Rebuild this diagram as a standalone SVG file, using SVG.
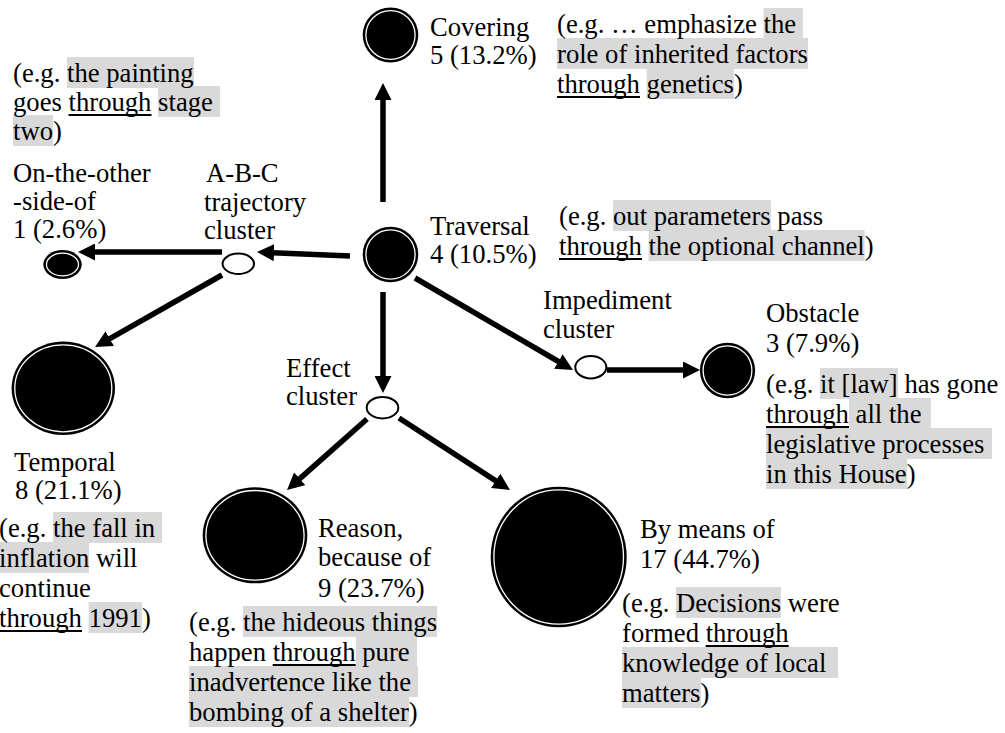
<svg xmlns="http://www.w3.org/2000/svg" width="1005" height="733" viewBox="0 0 1005 733" font-family="'Liberation Serif', serif">
<style>
.t{font-family:'Liberation Serif',serif;font-size:26.67px;fill:#000}
.hl{fill:#d9d9d9}
.ul{fill:#000}
.conn{stroke:#000;stroke-width:5.5;fill:none;marker-end:url(#ah)}
.node{fill:#000}
.ring{fill:none;stroke:#fff;stroke-width:1.3}
.cl{fill:#fff;stroke:#000;stroke-width:2}
</style>
<defs>
<marker id="ah" markerUnits="userSpaceOnUse" markerWidth="17" markerHeight="17" refX="7" refY="8.5" orient="auto" viewBox="0 0 17 17">
<path d="M0,0 L17,8.5 L0,17 Z" fill="#000"/>
</marker>
</defs>
<rect width="1005" height="733" fill="#fff"/>

<g id="connectors">
<line class="conn" x1="383" y1="202" x2="383" y2="93"/>
<line class="conn" x1="383" y1="292" x2="383" y2="383"/>
<line class="conn" x1="350" y1="256" x2="267" y2="252.4"/>
<line class="conn" x1="222" y1="252" x2="88" y2="252"/>
<line class="conn" x1="222" y1="275" x2="103.7" y2="342.1"/>
<line class="conn" x1="415" y1="278" x2="564.4" y2="365"/>
<line class="conn" x1="607" y1="370" x2="690" y2="370"/>
<line class="conn" x1="367" y1="419" x2="294.5" y2="483.4"/>
<line class="conn" x1="399" y1="418" x2="501.6" y2="484.6"/>
</g>

<g id="node-covering">
<ellipse class="node" cx="390.5" cy="35" rx="27.8" ry="27.6"/>
<ellipse class="ring" cx="390.5" cy="35" rx="24.6" ry="24.4"/>
<text class="t" x="430" y="36">Covering</text>
<text class="t" x="430" y="64">5 (13.2%)</text>
</g>

<g id="example-covering">
<rect class="hl" x="763.6" y="8" width="39.3" height="31"/>
<rect class="hl" x="557" y="38" width="251" height="31"/>
<rect class="hl" x="646.6" y="68" width="87.4" height="31"/>
<text class="t" x="557" y="33">(e.g. … emphasize the</text>
<text class="t" x="557" y="63">role of inherited factors</text>
<text class="t" x="557" y="93">through genetics)</text>
<rect class="ul" x="557" y="96" width="83" height="2"/>
</g>

<g id="example-other-side">
<rect class="hl" x="67" y="57" width="127" height="31"/>
<rect class="hl" x="158" y="86" width="62" height="31"/>
<rect class="hl" x="13" y="115" width="40" height="31"/>
<text class="t" x="13" y="82">(e.g. the painting</text>
<text class="t" x="13" y="111">goes through stage</text>
<text class="t" x="13" y="140">two)</text>
<rect class="ul" x="68.5" y="114" width="83" height="2"/>
</g>

<g id="node-other-side">
<ellipse class="node" cx="62.5" cy="264.5" rx="19.2" ry="14.5"/>
<ellipse class="ring" cx="62.5" cy="264.5" rx="16" ry="11.3"/>
<text class="t" x="13" y="182">On-the-other</text>
<text class="t" x="13" y="210">-side-of</text>
<text class="t" x="13" y="238">1 (2.6%)</text>
</g>

<g id="node-abc-cluster">
<ellipse class="cl" cx="238.3" cy="263.8" rx="15.7" ry="10.2"/>
<text class="t" x="206" y="182">A-B-C</text>
<text class="t" x="204" y="211">trajectory</text>
<text class="t" x="204" y="239">cluster</text>
</g>

<g id="node-traversal">
<ellipse class="node" cx="390.5" cy="254.5" rx="27.8" ry="27.8"/>
<ellipse class="ring" cx="390.5" cy="254.5" rx="24.6" ry="24.6"/>
<text class="t" x="430" y="235">Traversal</text>
<text class="t" x="430" y="263">4 (10.5%)</text>
</g>

<g id="example-traversal">
<rect class="hl" x="613" y="200" width="158" height="31"/>
<rect class="hl" x="648.6" y="230" width="216" height="31"/>
<text class="t" x="559" y="225">(e.g. out parameters pass</text>
<text class="t" x="559" y="255">through the optional channel)</text>
<rect class="ul" x="559" y="258" width="83" height="2"/>
</g>

<g id="node-impediment-cluster">
<ellipse class="cl" cx="590.8" cy="367.2" rx="15.5" ry="11.2"/>
<text class="t" x="543" y="309">Impediment</text>
<text class="t" x="543" y="338">cluster</text>
</g>

<g id="node-obstacle">
<ellipse class="node" cx="727.5" cy="370.5" rx="27.6" ry="27.8"/>
<ellipse class="ring" cx="727.5" cy="370.5" rx="24.4" ry="24.6"/>
<text class="t" x="766" y="322">Obstacle</text>
<text class="t" x="766" y="352">3 (7.9%)</text>
</g>

<g id="example-obstacle">
<rect class="hl" x="820" y="368" width="78" height="31"/>
<rect class="hl" x="849" y="398" width="82" height="31"/>
<rect class="hl" x="766" y="428" width="226" height="31"/>
<rect class="hl" x="766" y="458" width="141" height="31"/>
<text class="t" x="766" y="393">(e.g. it [law] has gone</text>
<text class="t" x="766" y="423">through all the</text>
<text class="t" x="766" y="453">legislative processes</text>
<text class="t" x="766" y="483">in this House)</text>
<rect class="ul" x="766" y="426" width="83" height="2"/>
</g>

<g id="node-effect-cluster">
<ellipse class="cl" cx="382.5" cy="407.7" rx="15.8" ry="10.7"/>
<text class="t" x="286" y="377">Effect</text>
<text class="t" x="286" y="405">cluster</text>
</g>

<g id="node-temporal">
<ellipse class="node" cx="63.3" cy="388.3" rx="51.7" ry="46.7"/>
<ellipse class="ring" cx="63.3" cy="388.3" rx="48.5" ry="43.5"/>
<text class="t" x="14" y="471">Temporal</text>
<text class="t" x="15" y="499">8 (21.1%)</text>
</g>

<g id="example-temporal">
<rect class="hl" x="53" y="512" width="109" height="31"/>
<rect class="hl" x="0" y="542" width="89" height="31"/>
<rect class="hl" x="88.6" y="602" width="53.3" height="31"/>
<text class="t" x="-1" y="537">(e.g. the fall in</text>
<text class="t" x="-1" y="567">inflation will</text>
<text class="t" x="-1" y="597">continue</text>
<text class="t" x="-1" y="627">through 1991)</text>
<rect class="ul" x="0" y="630" width="82" height="2"/>
</g>

<g id="node-reason">
<ellipse class="node" cx="255" cy="535.3" rx="52.3" ry="48"/>
<ellipse class="ring" cx="255" cy="535.3" rx="49.1" ry="44.8"/>
<text class="t" x="318" y="537">Reason,</text>
<text class="t" x="318" y="566">because of</text>
<text class="t" x="318" y="597">9 (23.7%)</text>
</g>

<g id="example-reason">
<rect class="hl" x="243" y="606" width="194" height="31"/>
<rect class="hl" x="356" y="636" width="61" height="31"/>
<rect class="hl" x="189" y="666" width="229" height="31"/>
<rect class="hl" x="189" y="696" width="220" height="31"/>
<text class="t" x="189" y="631">(e.g. the hideous things</text>
<text class="t" x="189" y="661">happen through pure</text>
<text class="t" x="189" y="691">inadvertence like the</text>
<text class="t" x="189" y="721">bombing of a shelter)</text>
<rect class="ul" x="272.7" y="664" width="83" height="2"/>
</g>

<g id="node-by-means">
<ellipse class="node" cx="558.7" cy="557" rx="68" ry="70.3"/>
<ellipse class="ring" cx="558.7" cy="557" rx="64.8" ry="67.1"/>
<text class="t" x="640" y="538">By means of</text>
<text class="t" x="640" y="568">17 (44.7%)</text>
</g>

<g id="example-by-means">
<rect class="hl" x="676" y="587" width="105" height="31"/>
<rect class="hl" x="622" y="647" width="216" height="31"/>
<rect class="hl" x="622" y="677" width="79" height="31"/>
<text class="t" x="622" y="612">(e.g. Decisions were</text>
<text class="t" x="622" y="642">formed through</text>
<text class="t" x="622" y="672">knowledge of local</text>
<text class="t" x="622" y="702">matters)</text>
<rect class="ul" x="705.7" y="645" width="83" height="2"/>
</g>
</svg>
